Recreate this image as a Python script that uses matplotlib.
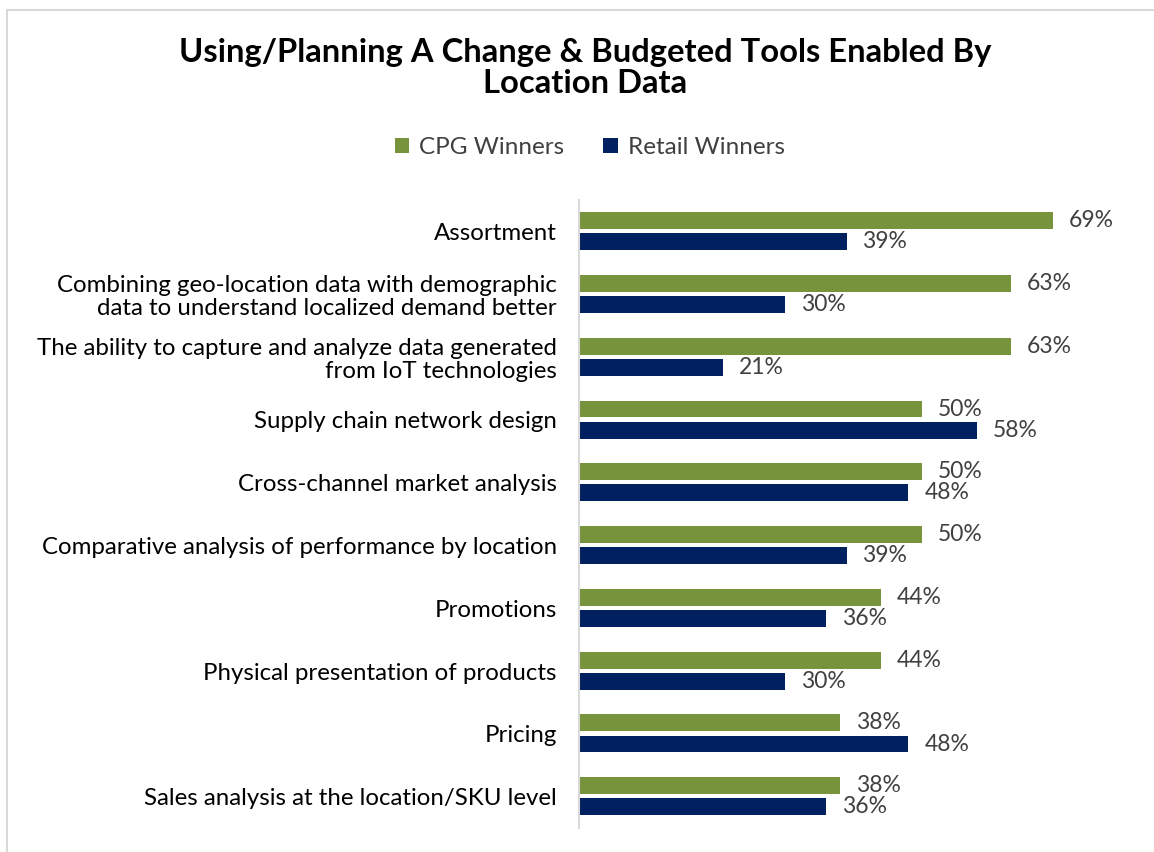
import numpy as np
import matplotlib
matplotlib.use('Agg')
import matplotlib.pyplot as plt
from matplotlib.patches import Rectangle

plt.rcParams['font.family'] = ['Lato', 'DejaVu Sans']

categories = ['Assortment',
              'Combining geo-location data with demographic\ndata to understand localized demand better',
              'The ability to capture and analyze data generated\nfrom IoT technologies',
              'Supply chain network design',
              'Cross-channel market analysis',
              'Comparative analysis of performance by location',
              'Promotions',
              'Physical presentation of products',
              'Pricing',
              'Sales analysis at the location/SKU level']
cpg = [69, 63, 63, 50, 50, 50, 44, 44, 38, 38]
retail = [39, 30, 21, 58, 48, 39, 36, 30, 48, 36]

green = '#77933c'
navy = '#002060'

fig = plt.figure(figsize=(11.54, 8.52), dpi=100)
# outer frame of the chart area
fig.patches.append(Rectangle((7/1154, -0.1), 1.2, 1.1 - 10/852, transform=fig.transFigure,
                             fill=False, edgecolor='#d9d9d9', linewidth=1.5))

ax = fig.add_axes([579/1154, 0.028, (1100-579)/1154, 0.737])
y = np.arange(len(categories))
h = 0.27
b1 = ax.barh(y - 0.175, cpg, height=h, color=green, label='CPG Winners')
b2 = ax.barh(y + 0.16, retail, height=h, color=navy, label='Retail Winners')

for bars, vals in ((b1, cpg), (b2, retail)):
    for bar, v in zip(bars, vals):
        ax.text(bar.get_width() + 2.3, bar.get_y() + bar.get_height()/2, '%d%%' % v,
                va='center', ha='left', fontsize=16.5, color='#404040')

ax.set_xlim(0, 75.9)
ax.set_ylim(len(categories) - 0.5, -0.5)
ax.set_yticks(y)
ax.set_yticklabels(categories, fontsize=17.3, color='black', linespacing=1.1)
ax.tick_params(axis='y', length=0, pad=16)
ax.set_xticks([])
for s in ['top', 'right', 'bottom']:
    ax.spines[s].set_visible(False)
ax.spines['left'].set_color('#d9d9d9')
ax.spines['left'].set_linewidth(1.5)

fig.text(0.507, 0.920, 'Using/Planning A Change & Budgeted Tools Enabled By\nLocation Data',
         ha='center', va='center', fontsize=23.6, fontweight='bold', linespacing=1.1)
fig.legend(handles=[b1, b2], loc='center', bbox_to_anchor=(0.511, 0.827), ncol=2,
           frameon=False, fontsize=17.5, handlelength=0.6, handleheight=0.6,
           handletextpad=0.4, columnspacing=1.6, labelcolor='#404040')

fig.savefig('out.png', dpi=100)
